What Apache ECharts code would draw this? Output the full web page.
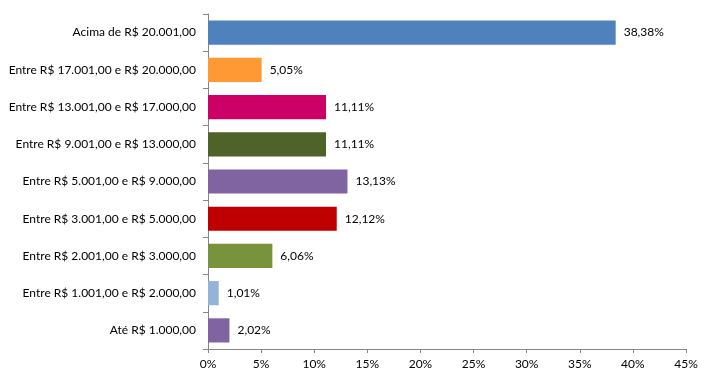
<!DOCTYPE html>
<html><head><meta charset="utf-8">
<script src="https://cdn.jsdelivr.net/npm/echarts@6/dist/echarts.min.js"></script>
<style>html,body{margin:0;padding:0;background:#fff}#c{width:713px;height:383px}</style>
</head><body><div id="c"></div>
<script>
const categories = ["Acima de R$ 20.001,00","Entre R$ 17.001,00 e R$ 20.000,00","Entre R$ 13.001,00 e R$ 17.000,00","Entre R$ 9.001,00 e R$ 13.000,00","Entre R$ 5.001,00 e R$ 9.000,00","Entre R$ 3.001,00 e R$ 5.000,00","Entre R$ 2.001,00 e R$ 3.000,00","Entre R$ 1.001,00 e R$ 2.000,00","Até R$ 1.000,00"];
const values = [38.38,5.05,11.11,11.11,13.13,12.12,6.06,1.01,2.02];
const colors = ["#4F81BD","#FF9933","#CC0066","#4F6228","#8064A2","#C00000","#77933C","#95B3D7","#8064A2"];
const xMin = 0, xMax = 45, xStep = 5;
const font = "Lato, 'Open Sans', sans-serif";
const chart = echarts.init(document.getElementById('c'));
chart.setOption({
  animation:false,
  grid:{left:208,right:27,top:14,bottom:34,containLabel:false},
  xAxis:{type:'value',min:xMin,max:xMax,interval:xStep,
    axisLine:{show:true,lineStyle:{color:'#868686'}},
    axisTick:{show:true,length:4,lineStyle:{color:'#868686'}},
    splitLine:{show:false},
    axisLabel:{formatter:v=>v+'%',color:'#000',fontFamily:font,fontSize:12,margin:9}},
  yAxis:{type:'category',data:categories,inverse:true,
    axisLine:{show:true,lineStyle:{color:'#868686'}},
    axisTick:{show:true,length:5,alignWithLabel:false,lineStyle:{color:'#868686'}},
    axisLabel:{color:'#000',fontFamily:font,fontSize:12,margin:12}},
  series:[{type:'bar',barCategoryGap:'35%',
    data:values.map((v,i)=>({value:v,itemStyle:{color:colors[i]}})),
    label:{show:true,position:'right',distance:8,color:'#000',fontFamily:font,fontSize:12,
      formatter:p=>p.value.toFixed(2).replace('.',',')+'%'}}]
});
</script></body></html>
